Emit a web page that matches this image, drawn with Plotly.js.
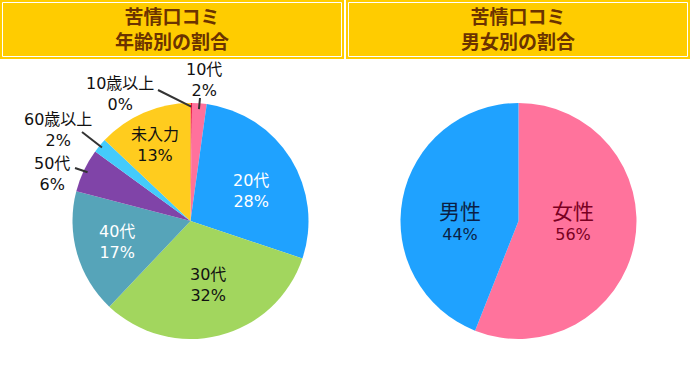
<!DOCTYPE html>
<html>
<head>
<meta charset="utf-8">
<script src="https://cdn.plot.ly/plotly-3.0.1.min.js"></script>
<style>html,body{margin:0;padding:0;background:#fff;}#chart{width:690px;height:375px;}</style>
</head>
<body>
<div id="chart"></div>
<script>
// ---- data ----
const ageLabels = ['10歳以上', '10代', '20代', '30代', '40代', '50代', '60歳以上', '未入力'];
const ageValues = [0.2, 2, 28, 32, 17, 6, 2, 13];
const agePctText = ['0%', '2%', '28%', '32%', '17%', '6%', '2%', '13%'];
const genderLabels = ['女性', '男性'];
const genderValues = [56, 44];
const genderPctText = ['56%', '44%'];
const titleLeft = ['苦情口コミ', '年齢別の割合'];
const titleRight = ['苦情口コミ', '男女別の割合'];

// ---- styles / layout helpers ----
const ageColors = ['#e8002d', '#ff719c', '#1fa2ff', '#a2d65e', '#56a4b9', '#8044a8', '#44cbfb', '#ffcc1e'];
const genderColors = ['#ff739c', '#1fa2ff'];
const W = 690, H = 375;
const px = x => x / W;
const py = y => 1 - y / H;
const LFONT = '"DejaVu Sans", "Noto Sans CJK JP", sans-serif';
const R = 118;
const leftC = [190.5, 221];
const rightC = [518.5, 221];

function domainFor(c) {
  return {x: [px(c[0] - R), px(c[0] + R)], y: [py(c[1] + R), py(c[1] - R)]};
}

const traces = [
  {type: 'pie', labels: ageLabels, values: ageValues, sort: false, direction: 'clockwise', rotation: 0,
   marker: {colors: ageColors, line: {width: 0}}, textinfo: 'none', hoverinfo: 'none', showlegend: false,
   domain: domainFor(leftC)},
  {type: 'pie', labels: genderLabels, values: genderValues, sort: false, direction: 'clockwise', rotation: 0,
   marker: {colors: genderColors, line: {width: 0}}, textinfo: 'none', hoverinfo: 'none', showlegend: false,
   domain: domainFor(rightC)}
];

const annotations = [];
const shapes = [];

function addText(text, x, y, size, color, weight) {
  annotations.push({xref: 'paper', yref: 'paper', x: px(x), y: py(y), xanchor: 'center', yanchor: 'middle',
    text: text, showarrow: false, align: 'center',
    font: {family: LFONT, size: size, color: color, weight: weight || 'normal'}});
}

// header boxes
[[0, 344, titleLeft, 172], [346, 690, titleRight, 518]].forEach(function (b) {
  shapes.push({type: 'rect', xref: 'paper', yref: 'paper', x0: px(b[0]), x1: px(b[1]), y0: py(59), y1: py(0),
    fillcolor: '#ffcc00', line: {width: 0}, layer: 'below'});
  shapes.push({type: 'rect', xref: 'paper', yref: 'paper', x0: px(b[0] + 2.5), x1: px(b[1] - 2.5), y0: py(56.5), y1: py(2.5),
    fillcolor: 'rgba(0,0,0,0)', line: {width: 1, color: '#ffffff'}, layer: 'below'});
  addText(b[2][0] + '<br>' + b[2][1], b[3], 29, 19, '#6b3300', 'bold');
});

// slice mid angles (degrees clockwise from 12 o'clock)
const total = ageValues.reduce((a, b) => a + b, 0);
const midAngles = [];
let cum = 0;
ageValues.forEach(function (v) { midAngles.push((cum + v / 2) / total * 360); cum += v; });

// label placement (layout only): centre of the two-line text block
const ageLabelPos = [
  {x: 120, y: 94, color: '#111', line: [158, 90], rf: 0.97},
  {x: 204, y: 80, color: '#111', line: [200, 98], rf: 0.95},
  {x: 251, y: 190.5, color: '#ffffff'},
  {x: 208, y: 284.5, color: '#111'},
  {x: 117, y: 241.5, color: '#ffffff'},
  {x: 52, y: 174, color: '#111', line: [75, 168], rf: 0.965},
  {x: 58, y: 130, color: '#111', line: [82, 132], rf: 0.975},
  {x: 155, y: 145, color: '#111'}
];

ageLabels.forEach(function (lab, i) {
  const p = ageLabelPos[i];
  addText(lab + '<br>' + agePctText[i], p.x, p.y, 16, p.color);
  if (p.line) {
    const a = midAngles[i] * Math.PI / 180;
    const tx = leftC[0] + p.rf * R * Math.sin(a);
    const ty = leftC[1] - p.rf * R * Math.cos(a);
    shapes.push({type: 'line', xref: 'paper', yref: 'paper', x0: px(p.line[0]), y0: py(p.line[1]), x1: px(tx), y1: py(ty),
      line: {color: '#333333', width: 2}});
  }
});

const genderLabelPos = [
  {x: 573, y: 222, color: '#7a0022'},
  {x: 460, y: 222, color: '#0b1f45'}
];
genderLabels.forEach(function (lab, i) {
  const p = genderLabelPos[i];
  addText('<span style="font-size:21px">' + lab + '</span><br>' + genderPctText[i], p.x, p.y, 16, p.color);
});

const layout = {
  width: W, height: H,
  margin: {l: 0, r: 0, t: 0, b: 0, pad: 0},
  paper_bgcolor: '#ffffff', plot_bgcolor: '#ffffff',
  showlegend: false,
  shapes: shapes,
  annotations: annotations
};

Plotly.newPlot('chart', traces, layout, {staticPlot: true, displayModeBar: false});
</script>
</body>
</html>
